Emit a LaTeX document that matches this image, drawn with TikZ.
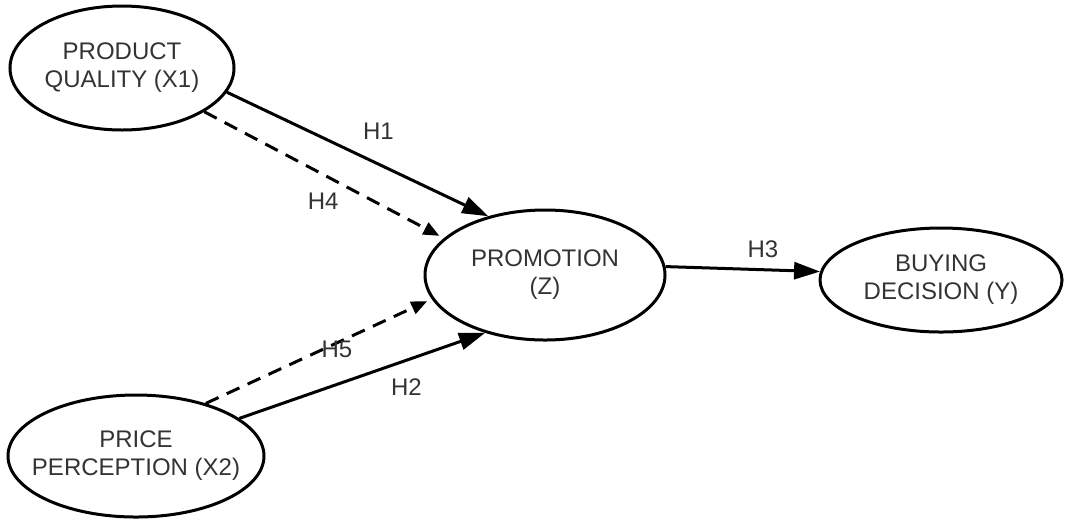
\documentclass[tikz,border=0pt]{standalone}
\usepackage{fontspec}
\setmainfont{Liberation Sans}
\usetikzlibrary{shapes.geometric}
\usetikzlibrary{arrows.meta}

\tikzset{
  latent/.style={ellipse,draw,line width=1.5pt,inner xsep=-12pt,inner ysep=0pt,align=center,
    font=\fontsize{12}{14}\selectfont,text=black!80},
  direct/.style={line width=1.5pt,-{Triangle[length=13pt,width=8.5pt]}},
  indirect/.style={line width=1.5pt,dash pattern=on 7pt off 4.5pt,shorten >=2.5pt,
    -{Triangle[length=8pt,width=6.5pt]}},
  hyp/.style={font=\fontsize{12}{14}\selectfont,text=black!80}
}

\begin{document}
\begin{tikzpicture}[x=0.5pt,y=-0.5pt]

\useasboundingbox (0,0) rectangle (1068,521);

\node[latent,minimum width=112pt,minimum height=62pt] (x1) at (122,68) {PRODUCT\\QUALITY (X1)};
\node[latent,minimum width=128pt,minimum height=61pt] (x2) at (136,456) {PRICE\\PERCEPTION (X2)};
\node[latent,minimum width=120pt,minimum height=65pt] (z) at (545,275) {PROMOTION\\(Z)};
\node[latent,minimum width=121pt,minimum height=52pt] (y) at (941,280) {BUYING\\DECISION (Y)};

\draw[direct] (x1.-13)--(z.134) node [hyp,pos=0.58,above=8pt] {H1};
\draw[direct] (x2.20)--(z.224) node [hyp,pos=0.68,below=5pt] {H2};
\draw[direct] (z.4)--(y.176) node [hyp,pos=0.63,above=2pt] {H3};
\draw[indirect] (x1.-28)--(z.160) node [hyp,pos=0.53,below=3pt,xshift=-4pt] {H4};
\draw[indirect] (x2.37)--(z.192) node [hyp,pos=0.58,yshift=-3pt] {H5};

\end{tikzpicture}
\end{document}
